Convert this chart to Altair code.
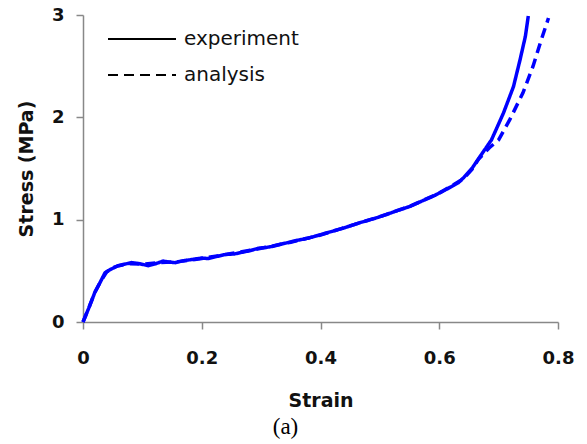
import altair as alt
import pandas as pd

# experiment curve (strain, stress MPa)
exp_strain = [0, 0.01, 0.02, 0.03, 0.037, 0.045, 0.059, 0.07, 0.082, 0.095, 0.11, 0.12, 0.135,
              0.145, 0.155, 0.17, 0.183, 0.2, 0.211, 0.225, 0.24, 0.255, 0.267, 0.28, 0.295, 0.31,
              0.32, 0.354, 0.38, 0.41, 0.44, 0.466, 0.49, 0.511, 0.53, 0.551, 0.57, 0.59, 0.61,
              0.632, 0.641, 0.655, 0.669, 0.688, 0.708, 0.725, 0.736, 0.745, 0.750]
exp_stress = [0, 0.14, 0.29, 0.40, 0.48, 0.51, 0.55, 0.565, 0.58, 0.57, 0.55, 0.565, 0.595,
              0.585, 0.58, 0.60, 0.61, 0.625, 0.62, 0.64, 0.66, 0.665, 0.68, 0.695, 0.72, 0.73,
              0.74, 0.79, 0.82, 0.87, 0.92, 0.97, 1.01, 1.05, 1.09, 1.13, 1.18, 1.23, 1.29,
              1.36, 1.41, 1.50, 1.62, 1.78, 2.04, 2.30, 2.56, 2.79, 2.99]

# analysis curve
ana_strain = [0, 0.01, 0.02, 0.03, 0.04, 0.05, 0.06, 0.08, 0.1, 0.13, 0.16, 0.2, 0.25, 0.3,
              0.35, 0.4, 0.45, 0.5, 0.55, 0.6, 0.641, 0.655, 0.666, 0.684, 0.70, 0.719, 0.741,
              0.758, 0.772, 0.784]
ana_stress = [0, 0.14, 0.29, 0.40, 0.49, 0.53, 0.55, 0.57, 0.565, 0.58, 0.59, 0.62, 0.67, 0.72,
              0.78, 0.85, 0.94, 1.03, 1.13, 1.26, 1.40, 1.49, 1.59, 1.70, 1.78, 1.98, 2.24,
              2.50, 2.76, 2.97]

series_names = ["experiment", "analysis"]

df = pd.concat([
    pd.DataFrame({"strain": exp_strain, "stress": exp_stress, "series": series_names[0], "order": range(len(exp_strain))}),
    pd.DataFrame({"strain": ana_strain, "stress": ana_stress, "series": series_names[1], "order": range(len(ana_strain))}),
])

chart = alt.Chart(df).mark_line(color="#0000FF", strokeWidth=3.5).encode(
    x=alt.X("strain:Q", title="Strain",
            scale=alt.Scale(domain=[0, 0.8], nice=False),
            axis=alt.Axis(values=[0, 0.2, 0.4, 0.6, 0.8], format="~g", grid=False, labelFlush=False,
                          tickSize=7, labelPadding=20, titlePadding=24)),
    y=alt.Y("stress:Q", title="Stress (MPa)",
            scale=alt.Scale(domain=[0, 3], nice=False),
            axis=alt.Axis(values=[0, 1, 2, 3], format="~g", grid=False, labelFlush=False,
                          tickSize=7, labelPadding=12, titlePadding=15)),
    strokeDash=alt.StrokeDash("series:N",
                              scale=alt.Scale(domain=series_names, range=[[1, 0], [10, 6]]),
                              legend=alt.Legend(title=None, orient="none", legendX=48, legendY=13,
                                                symbolType="M-3.4,0H3.4", symbolSize=400,
                                                symbolStrokeColor="black", symbolStrokeWidth=2,
                                                labelFont="DejaVu Sans", labelFontSize=20,
                                                labelColor="#111", labelOffset=31, rowPadding=15,
                                                padding=0)),
    detail="series:N",
    order="order:Q",
).properties(
    width=475, height=307,
    title=alt.TitleParams("(a)", orient="bottom", anchor="middle", font="Liberation Serif",
                          fontSize=23, fontWeight="normal", color="black", dx=-35, offset=6),
    autosize=alt.AutoSizeParams(type="none"),
    padding={"left": 83, "top": 15, "right": 29, "bottom": 122},
).configure_view(stroke=None).configure_axis(
    domainColor="#888", tickColor="#888", domainWidth=1.5, tickWidth=1.5,
    labelFont="DejaVu Sans", labelFontSize=18, labelFontWeight="bold", labelColor="#111",
    titleFont="DejaVu Sans", titleFontSize=19, titleFontWeight="bold", titleColor="#111",
)

chart.save("out.html", embed_options={"renderer": "svg", "actions": False})
